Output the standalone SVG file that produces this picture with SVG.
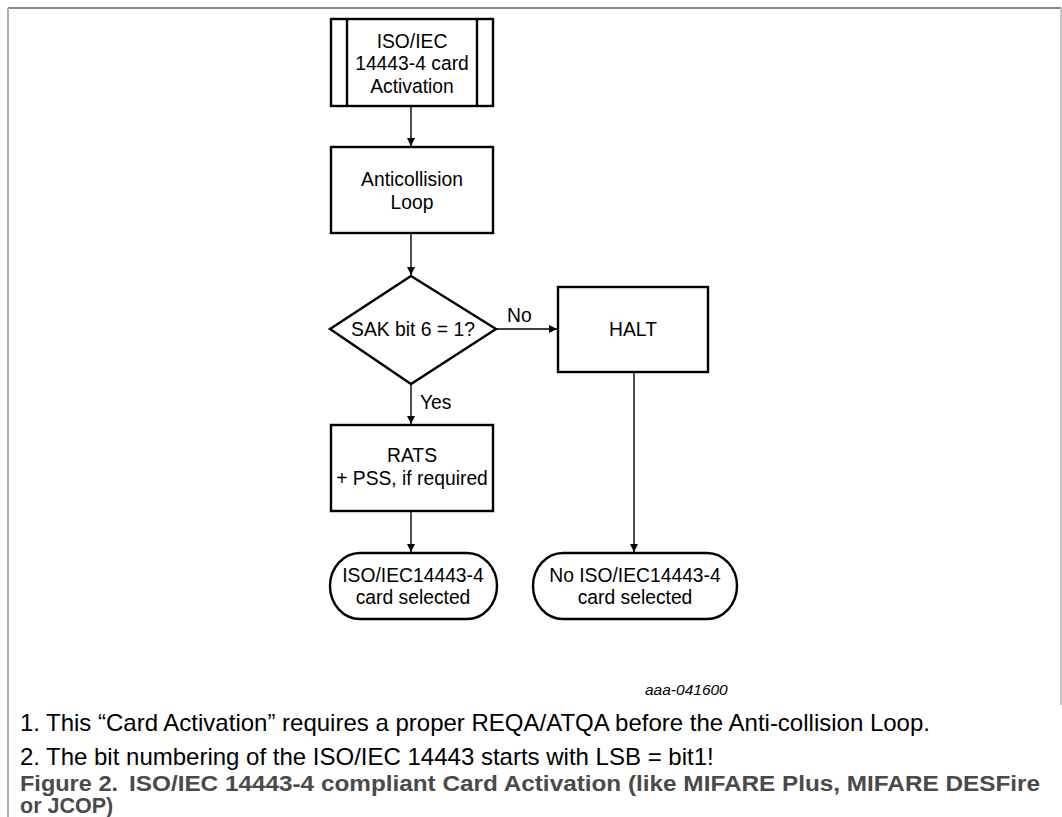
<svg xmlns="http://www.w3.org/2000/svg" width="1062" height="817" viewBox="0 0 1062 817">
  <style>
    .shape { fill: #ffffff; stroke: #000000; stroke-width: 2.4; }
    .conn { fill: none; stroke: #000000; stroke-width: 1.4; }
    .lbl { font-family: "Liberation Sans", Arial, sans-serif; font-size: 19.3px; fill: #000000; text-anchor: middle; }
    .edge { font-family: "Liberation Sans", Arial, sans-serif; font-size: 19.3px; fill: #000000; }
    .note { font-family: "Liberation Sans", Arial, sans-serif; font-size: 24px; fill: #000000; }
    .code { font-family: "Liberation Sans", Arial, sans-serif; font-size: 15.5px; font-style: italic; fill: #000000; }
    .cap { font-family: "Liberation Sans", Arial, sans-serif; font-size: 21.5px; font-weight: bold; fill: #4a4a4a; }
  </style>
  <defs>
    <marker id="arrow" viewBox="0 0 10 10" refX="10" refY="5" markerWidth="8" markerHeight="8" markerUnits="userSpaceOnUse" orient="auto">
      <path d="M0,0 L10,5 L0,10 Z" fill="#000000"/>
    </marker>
  </defs>

  <rect width="1062" height="817" fill="#ffffff"/>

  <!-- figure frame -->
  <g id="frame">
    <line x1="8" y1="8" x2="1061" y2="8" stroke="#8a8a8a" stroke-width="2"/>
    <line x1="8" y1="8" x2="8" y2="817" stroke="#b0b0b0" stroke-width="2"/>
    <line x1="1061" y1="8" x2="1061" y2="705" stroke="#b0b0b0" stroke-width="1.5"/>
  </g>

  <!-- connectors -->
  <g id="connectors">
    <line class="conn" x1="411" y1="106" x2="411" y2="146" marker-end="url(#arrow)"/>
    <line class="conn" x1="411" y1="233" x2="411" y2="275" marker-end="url(#arrow)"/>
    <line class="conn" x1="496" y1="329" x2="557" y2="329" marker-end="url(#arrow)"/>
    <line class="conn" x1="411" y1="384" x2="411" y2="424" marker-end="url(#arrow)"/>
    <line class="conn" x1="411" y1="511" x2="411" y2="552" marker-end="url(#arrow)"/>
    <line class="conn" x1="634" y1="372" x2="634" y2="552" marker-end="url(#arrow)"/>
    <text class="edge" x="507" y="322">No</text>
    <text class="edge" x="420" y="409">Yes</text>
  </g>

  <g id="activation">
    <rect class="shape" x="331" y="19" width="162" height="87"/>
    <line class="shape" x1="347" y1="19" x2="347" y2="106"/>
    <line class="shape" x1="477" y1="19" x2="477" y2="106"/>
    <text class="lbl" x="412" y="48">ISO/IEC</text>
    <text class="lbl" x="412" y="70">14443-4 card</text>
    <text class="lbl" x="412" y="93">Activation</text>
  </g>

  <g id="anticollision">
    <rect class="shape" x="331" y="147" width="162" height="86"/>
    <text class="lbl" x="412" y="186">Anticollision</text>
    <text class="lbl" x="412" y="209">Loop</text>
  </g>

  <g id="sak-check">
    <polygon class="shape" points="411,276 496,329 411,384 330,329"/>
    <text class="lbl" x="413" y="336">SAK bit 6 = 1?</text>
  </g>

  <g id="halt">
    <rect class="shape" x="558" y="287" width="150" height="85"/>
    <text class="lbl" x="633" y="336">HALT</text>
  </g>

  <g id="rats">
    <rect class="shape" x="331" y="425" width="162" height="86"/>
    <text class="lbl" x="412" y="462">RATS</text>
    <text class="lbl" x="412" y="485">+ PSS, if required</text>
  </g>

  <g id="selected">
    <rect class="shape" x="330" y="553" width="167" height="66" rx="30" ry="33"/>
    <text class="lbl" x="413" y="582">ISO/IEC14443-4</text>
    <text class="lbl" x="413" y="604">card selected</text>
  </g>

  <g id="not-selected">
    <rect class="shape" x="533" y="553" width="204" height="66" rx="30" ry="33"/>
    <text class="lbl" x="635" y="582">No ISO/IEC14443-4</text>
    <text class="lbl" x="635" y="604">card selected</text>
  </g>

  <!-- drawing code, notes and caption -->
  <text class="code" x="645" y="695">aaa-041600</text>
  <g id="notes">
    <text class="note" x="20" y="731">1.</text>
    <text class="note" x="46" y="731">This “Card Activation” requires a proper REQA/ATQA before the Anti-collision Loop.</text>
    <text class="note" x="20" y="765">2.</text>
    <text class="note" x="46" y="765">The bit numbering of the ISO/IEC 14443 starts with LSB = bit1!</text>
  </g>
  <g id="caption">
    <text class="cap" x="20" y="791" textLength="98" lengthAdjust="spacingAndGlyphs">Figure 2.</text>
    <text class="cap" x="129" y="791" textLength="911" lengthAdjust="spacingAndGlyphs">ISO/IEC 14443-4 compliant Card Activation (like MIFARE Plus, MIFARE DESFire</text>
    <text class="cap" x="20" y="813">or JCOP)</text>
  </g>
</svg>
